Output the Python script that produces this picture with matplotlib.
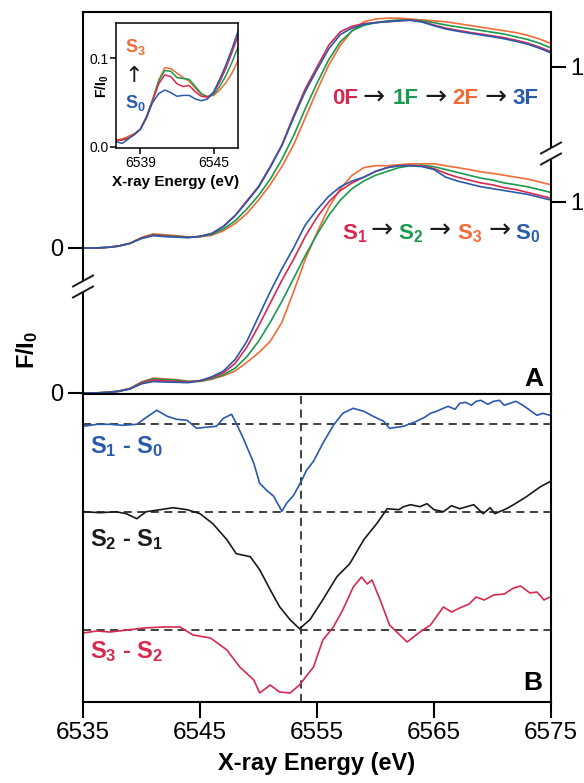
import numpy as np
import matplotlib
matplotlib.use('Agg')
import matplotlib.pyplot as plt
from matplotlib.lines import Line2D
from matplotlib.patches import Rectangle

plt.rcParams['font.family'] = ['Liberation Sans', 'DejaVu Sans']
plt.rcParams['mathtext.fontset'] = 'custom'
plt.rcParams['mathtext.rm'] = 'Liberation Sans'
plt.rcParams['mathtext.bf'] = 'Liberation Sans:bold'
plt.rcParams['mathtext.it'] = 'Liberation Sans:italic'
plt.rcParams['mathtext.default'] = 'bf'

# ---------------- data ----------------
energy = np.arange(6535, 6576)  # eV, 1 eV grid

# S-state spectra (lower set, F/I0)
s0 = [0.000,0.000,0.003,0.008,0.020,0.048,0.060,0.057,0.056,0.054,0.064,0.085,0.115,0.175,0.270,0.400,0.530,0.650,0.760,0.880,0.960,1.030,1.080,1.110,1.130,1.160,1.180,1.190,1.190,1.185,1.170,1.130,1.110,1.095,1.080,1.070,1.060,1.050,1.040,1.025,1.010]
s1 = [0.000,0.000,0.003,0.008,0.022,0.052,0.068,0.064,0.061,0.058,0.065,0.080,0.105,0.155,0.240,0.350,0.470,0.590,0.700,0.820,0.920,1.000,1.060,1.100,1.130,1.160,1.180,1.190,1.192,1.188,1.175,1.150,1.130,1.115,1.100,1.090,1.075,1.065,1.050,1.035,1.020]
s2 = [0.000,0.000,0.003,0.009,0.023,0.055,0.074,0.070,0.067,0.060,0.062,0.075,0.095,0.130,0.190,0.270,0.370,0.480,0.600,0.720,0.830,0.930,1.010,1.070,1.110,1.140,1.160,1.180,1.190,1.192,1.185,1.170,1.155,1.140,1.125,1.115,1.100,1.090,1.080,1.065,1.050]
s3 = [0.000,0.000,0.004,0.010,0.024,0.058,0.078,0.074,0.070,0.061,0.060,0.072,0.090,0.115,0.160,0.210,0.270,0.370,0.530,0.700,0.840,0.970,1.070,1.140,1.180,1.190,1.190,1.195,1.200,1.200,1.200,1.190,1.180,1.170,1.158,1.150,1.140,1.130,1.120,1.105,1.090]

# flash spectra (upper set, F/I0)
f0 = [0.000,0.000,0.003,0.010,0.025,0.055,0.072,0.066,0.062,0.058,0.065,0.080,0.120,0.180,0.260,0.340,0.450,0.570,0.730,0.880,1.000,1.120,1.195,1.225,1.240,1.245,1.250,1.255,1.260,1.250,1.232,1.215,1.203,1.192,1.182,1.172,1.162,1.148,1.132,1.110,1.085]
f1 = [0.000,0.000,0.003,0.010,0.025,0.056,0.074,0.069,0.065,0.060,0.063,0.075,0.105,0.150,0.215,0.290,0.380,0.490,0.620,0.770,0.910,1.040,1.140,1.200,1.230,1.245,1.255,1.260,1.260,1.255,1.245,1.232,1.222,1.212,1.202,1.192,1.182,1.167,1.152,1.132,1.105]
f2 = [0.000,0.000,0.004,0.011,0.026,0.058,0.078,0.073,0.068,0.061,0.062,0.070,0.095,0.135,0.190,0.265,0.350,0.450,0.570,0.720,0.870,1.010,1.120,1.200,1.250,1.265,1.270,1.270,1.265,1.260,1.255,1.250,1.240,1.230,1.220,1.210,1.200,1.190,1.175,1.155,1.130]
f3 = [0.000,0.000,0.003,0.010,0.025,0.052,0.068,0.063,0.060,0.057,0.064,0.080,0.118,0.178,0.255,0.335,0.445,0.565,0.720,0.865,0.985,1.100,1.180,1.215,1.235,1.245,1.250,1.255,1.258,1.248,1.228,1.210,1.198,1.187,1.177,1.167,1.156,1.142,1.126,1.104,1.078]

# inset: pre-edge region of S-state spectra
ins_energy = [6537.0,6537.5,6538.0,6538.5,6539.0,6539.5,6540.0,6540.5,6541.0,6541.5,6542.0,6542.5,6543.0,6543.5,6544.0,6544.5,6545.0,6545.5,6546.0,6546.5,6547.0]
ins_s0 = [0.006,0.004,0.009,0.014,0.020,0.033,0.050,0.060,0.064,0.061,0.057,0.058,0.058,0.054,0.052,0.054,0.062,0.076,0.092,0.110,0.130]
ins_s1 = [0.007,0.008,0.010,0.014,0.020,0.034,0.052,0.071,0.081,0.079,0.071,0.068,0.069,0.062,0.057,0.056,0.061,0.073,0.088,0.106,0.125]
ins_s2 = [0.007,0.008,0.010,0.014,0.020,0.034,0.053,0.074,0.086,0.085,0.078,0.077,0.076,0.068,0.060,0.056,0.059,0.068,0.080,0.095,0.112]
ins_s3 = [0.008,0.009,0.012,0.015,0.020,0.033,0.053,0.075,0.089,0.088,0.083,0.078,0.074,0.066,0.059,0.057,0.058,0.064,0.072,0.083,0.097]

# difference spectra (arbitrary units x100)
d10_energy = [6535.0,6536.2,6537.3,6538.4,6539.6,6540.3,6541.3,6542.2,6543.0,6543.9,6544.7,6545.5,6546.4,6547.0,6547.7,6548.1,6548.7,6549.6,6550.1,6550.7,6551.3,6552.0,6552.4,6553.0,6553.7,6554.1,6554.7,6555.5,6556.4,6557.2,6558.1,6559.0,6559.8,6560.7,6561.2,6561.8,6562.4,6563.5,6564.2,6564.7,6565.2,6565.8,6566.2,6566.8,6567.2,6567.7,6568.2,6568.6,6569.0,6569.6,6570.1,6570.6,6571.0,6571.5,6572.0,6572.6,6573.2,6573.8,6574.3,6574.9]
d10 = [-2,0,0,-1,0,6,14,8,5,4,-4,-3,-2,6,10,1,-14,-39,-59,-66,-72,-87,-79,-71,-56,-46,-37,-19,-1,11,16,13,8,3,-4,-3,-2,3,7,11,13,16,18,15,21,22,19,23,24,20,23,24,19,21,23,19,14,9,11,9]
d21_energy = [6535.0,6536.5,6537.8,6538.7,6539.6,6540.4,6541.6,6542.7,6543.9,6545.0,6546.1,6547.3,6548.1,6549.3,6550.1,6551.0,6551.8,6552.7,6553.5,6554.4,6555.5,6556.7,6557.8,6559.0,6560.1,6561.0,6562.0,6562.4,6563.0,6563.8,6564.4,6565.0,6565.8,6566.5,6567.2,6568.4,6569.2,6569.8,6570.2,6570.6,6571.2,6571.8,6572.9,6574.1,6574.9]
d21 = [0,-1,0,-2,-7,0,2,4,2,-2,-12,-28,-42,-45,-58,-78,-95,-108,-117,-108,-88,-65,-52,-28,-12,3,2,5,7,5,8,2,0,6,3,7,-2,4,-2,0,3,7,15,25,30]
d32_energy = [6535.0,6536.2,6537.3,6538.8,6540.2,6541.9,6543.3,6544.4,6545.9,6547.3,6548.4,6549.6,6550.1,6551.0,6551.8,6552.7,6553.5,6554.7,6555.5,6556.4,6557.2,6558.1,6558.8,6559.3,6559.7,6560.4,6561.2,6562.7,6563.8,6564.7,6565.8,6566.5,6567.2,6568.0,6568.6,6569.3,6570.1,6571.0,6571.8,6572.4,6573.2,6573.8,6574.4,6574.9]
d32 = [-3,-1,-2,0,2,3,3,-5,-8,-20,-37,-50,-63,-55,-62,-63,-55,-37,-10,3,20,43,53,46,50,30,5,-12,-2,5,23,18,22,26,33,30,35,36,42,44,37,38,30,33]

edge_marker = 6553.6
xticks = [6535, 6545, 6555, 6565, 6575]

# ---------------- style ----------------
BLUE = '#2a5aaa'
RED = '#d8294f'
GREEN = '#1a9a4e'
ORANGE = '#f36b35'
BLACK = '#1a1a1a'
DASH = '#333333'

W, H = 584, 783
fig = plt.figure(figsize=(W / 100, H / 100), dpi=100)


def fx(p):
    return p / W


def fy(p):
    return 1 - p / H


L, R, T, M, B = 83, 551, 12, 394, 702
axA = fig.add_axes([fx(L), fy(M), (R - L) / W, (M - T) / H])
axB = fig.add_axes([fx(L), fy(B), (R - L) / W, (B - M) / H])

# panel A vertical layout
y_lo = -1.0 / 191
y_hi = y_lo + (M - T) / 191
up_off = y_lo + (M - 248) / 191
up_scale = (y_lo + (M - 67) / 191) - up_off

lw = 1.2
for ser, c in [(f2, ORANGE), (f1, GREEN), (f0, RED), (f3, BLUE)]:
    axA.plot(energy, up_off + up_scale * np.asarray(ser), color=c, lw=lw)
for ser, c in [(s3, ORANGE), (s2, GREEN), (s1, RED), (s0, BLUE)]:
    axA.plot(energy, np.asarray(ser), color=c, lw=lw)

axA.set_xlim(6535, 6575)
axA.set_ylim(y_lo, y_hi)
axA.set_xticks([])
axA.set_yticks([0.0, up_off])
axA.set_yticklabels(['0', '0'])
axA.tick_params(axis='y', direction='out', length=11, width=1.5, labelsize=17, pad=3)
for s in axA.spines.values():
    s.set_linewidth(1.5)

axR = axA.twinx()
axR.set_ylim(y_lo, y_hi)
axR.set_yticks([1.0, up_off + up_scale])
axR.set_yticklabels(['1', '1'])
axR.tick_params(axis='y', direction='out', length=11, width=1.5, labelsize=17, pad=3)
for s in axR.spines.values():
    s.set_visible(False)

# panel B
baselines = [2.777, 1.903, 0.72]
for e, d, c, b in [(d10_energy, d10, BLUE, baselines[0]),
                   (d21_energy, d21, BLACK, baselines[1]),
                   (d32_energy, d32, RED, baselines[2])]:
    axB.axhline(b, color=DASH, lw=1.3, dashes=(4.5, 3), zorder=1)
    axB.plot(e, b + np.asarray(d) / 100.0, color=c, lw=lw, zorder=2)
axB.axvline(edge_marker, color=DASH, lw=1.3, dashes=(4.5, 3), zorder=1)
axB.set_xlim(6535, 6575)
axB.set_ylim(0, (B - M) / 100)
axB.set_yticks([])
axB.set_xticks(xticks)
axB.set_xticklabels([str(t) for t in xticks])
axB.tick_params(axis='x', direction='out', length=11.5, width=1.5, labelsize=17.5, pad=3)
for s in axB.spines.values():
    s.set_linewidth(1.5)
axB.set_xlabel('X-ray Energy (eV)', fontsize=17, fontweight='bold', labelpad=6)

# inset
axI = fig.add_axes([fx(116), fy(148), (238 - 116) / W, (148 - 23) / H])
for ser, c in [(ins_s3, ORANGE), (ins_s2, GREEN), (ins_s1, RED), (ins_s0, BLUE)]:
    axI.plot(ins_energy, ser, color=c, lw=1.1)
axI.set_xlim(6537, 6547)
axI.set_ylim(-1.0 / 890, 124.0 / 890)
axI.set_xticks([6539, 6545])
axI.set_yticks([0.0, 0.1])
axI.set_yticklabels(['0.0', '0.1'])
axI.tick_params(direction='out', length=4, width=1.1, labelsize=10, pad=1.5)
for s in axI.spines.values():
    s.set_linewidth(1.1)
fig.text(fx(176), fy(182), 'X-ray Energy (eV)', fontsize=11, fontweight='bold',
         ha='center', va='center')
fig.text(fx(102), fy(86), r'F/$I_0$', fontsize=10, fontweight='bold', rotation=90,
         ha='center', va='center')
fig.text(fx(135), fy(47), r'$S_3$', fontsize=13, color=ORANGE, ha='center', va='center')
fig.text(fx(134), fy(76), '\u2191', fontsize=16, color=BLACK, ha='center', va='center',
         family='DejaVu Sans')
fig.text(fx(135), fy(103), r'$S_0$', fontsize=13, color=BLUE, ha='center', va='center')

# sequence labels
fs = 16
for txt, c, x in [('0F', RED, 332), ('\u2192', BLACK, 362), ('1F', GREEN, 393),
                  ('\u2192', BLACK, 424), ('2F', ORANGE, 452), ('\u2192', BLACK, 484),
                  ('3F', BLUE, 512)]:
    if txt == '\u2192':
        fig.text(fx(x), fy(98), txt, fontsize=19, color=c, family='DejaVu Sans',
                 ha='left', va='center')
    else:
        fig.text(fx(x), fy(98), txt, fontsize=fs, fontweight='bold', color=c,
                 ha='left', va='center')
for txt, c, x in [(r'$S_1$', RED, 342), ('\u2192', BLACK, 371), (r'$S_2$', GREEN, 398),
                  ('\u2192', BLACK, 429), (r'$S_3$', ORANGE, 457), ('\u2192', BLACK, 488),
                  (r'$S_0$', BLUE, 515)]:
    if txt == '\u2192':
        fig.text(fx(x), fy(231), txt, fontsize=19, color=c, family='DejaVu Sans',
                 ha='left', va='center')
    else:
        fig.text(fx(x), fy(234), txt, fontsize=fs, fontweight='bold', color=c,
                 ha='left', va='center')

# difference labels
fig.text(fx(90), fy(447), r'$S_1$ - $S_0$', fontsize=17, fontweight='bold', color=BLUE,
         ha='left', va='center')
fig.text(fx(90), fy(540), r'$S_2$ - $S_1$', fontsize=17, fontweight='bold', color=BLACK,
         ha='left', va='center')
fig.text(fx(90), fy(652), r'$S_3$ - $S_2$', fontsize=17, fontweight='bold', color=RED,
         ha='left', va='center')

fig.text(fx(534), fy(379), 'A', fontsize=19, fontweight='bold', ha='center', va='center')
fig.text(fx(533), fy(683), 'B', fontsize=19, fontweight='bold', ha='center', va='center')

fig.text(fx(27), fy(350), r'F/$I_0$', fontsize=17, fontweight='bold', rotation=90,
         ha='center', va='center')

# axis break marks
def brk(xc, y1, y2):
    fig.patches.append(Rectangle((fx(xc - 4), fy(y2)), 8 / W, (y2 - y1) / H,
                                 transform=fig.transFigure, facecolor='white',
                                 edgecolor='none', zorder=5))
    for yy in (y1, y2):
        fig.lines.append(Line2D([fx(xc - 10), fx(xc + 10)], [fy(yy + 5.5), fy(yy - 5.5)],
                                transform=fig.transFigure, color=BLACK, lw=1.4, zorder=6))

brk(L, 281, 292)
brk(R, 148, 159)

fig.savefig('out.png', dpi=100)
